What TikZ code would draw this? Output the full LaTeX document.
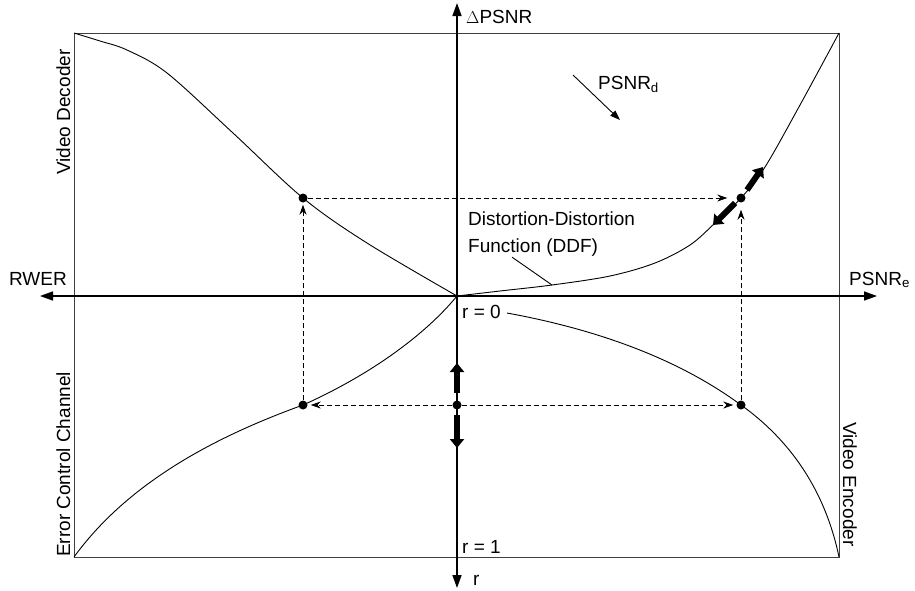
\documentclass[tikz,border=0pt]{standalone}
\usepackage{fontspec}
\setmainfont{Liberation Sans}
\usetikzlibrary{arrows.meta, positioning, calc}

\begin{document}
\begin{tikzpicture}[x=1pt, y=-1pt,
  every node/.style={font=\fontsize{19}{22}\selectfont, inner sep=0pt},
  axisline/.style={line width=1.6pt, {Triangle[length=13pt,width=9pt]}-{Triangle[length=13pt,width=9pt]}},
  curveline/.style={line width=0.9pt},
  dashline/.style={dash pattern=on 5pt off 3pt, line width=0.9pt, -{Stealth[length=10pt,width=7pt]}},
  bigarrow/.style={line width=6pt, -{Triangle[length=9pt,width=14pt]}},
  dot/.style={circle, fill, minimum size=9pt, inner sep=0pt}]
\useasboundingbox (0,0) rectangle (915,590);

% Frame
\draw[black!75, line width=0.9pt] (74,33) rectangle (839,557);

% Axes
\coordinate (O) at (457,296);
\coordinate (xwest) at (40,296);
\coordinate (xeast) at (877,296);
\coordinate (ytop) at (457,3);
\coordinate (ybot) at (457,588);
\draw[axisline] (xwest) -- (xeast);
\draw[axisline] (ytop) -- (ybot);

% Axis labels
\node[anchor=base west] (dpsnr) at (466,23) {$\Delta$PSNR};
\node[anchor=base west] (psnre) at (849,285) {PSNR\textsubscript{e}};
\node[anchor=base east] (rwer) at (67,285) {RWER};
\node[anchor=base west] (r0) at (462,318) {r = 0};
\node[anchor=base west] (r1) at (462,553) {r = 1};
\node[anchor=base west] (rlab) at (473,585) {r};

% Quadrant labels
\node[rotate=90, anchor=base west] (dec) at (70,175) {Video Decoder};
\node[rotate=90, anchor=base west] (ecc) at (70,557) {Error Control Channel};
\node[rotate=-90, anchor=base west] (enc) at (843,422) {Video Encoder};

% Operating points
\node[dot] (pdec) at (303,198) {};
\node[dot] (pddf) at (741,198) {};
\node[dot] (pecc) at (303,405) {};
\node[dot] (pr) at (457,405) {};
\node[dot] (penc) at (741,405) {};

% Curves
\draw[curveline] plot[smooth, tension=0.55] coordinates {(74,33) (100,41) (127,50) (167,73) (233,133) (303,198) (367,243) (457,296)};
\draw[curveline] plot[smooth, tension=0.55] coordinates {(457,296) (500,291) (552,285) (610,276) (655,263) (690,245) (715,223) (741,198) (765,167) (800,105) (839,33)};
\draw[curveline] (74,557) .. controls (130,480) and (220,435) .. (pecc.center)
  .. controls (370,375) and (425,335) .. (O);
\draw[curveline] (507,313) .. controls (600,330) and (680,360) .. (penc.center)
  .. controls (790,440) and (825,490) .. (839,557);

% Mapping between the quadrants
\draw[dashline, shorten >=3pt] (pr) -- (pecc);
\draw[dashline, shorten >=3pt] (pr) -- (penc);
\draw[dashline, shorten >=2pt] (pecc) -- (pdec);
\draw[dashline, shorten >=7pt] (penc) -- (pddf);
\draw[dashline, shorten >=9pt] (pdec) -- (pddf);

% Direction of change
\draw[bigarrow] ($(pr)+(0,-12)$) -- ($(pr)+(0,-42)$);
\draw[bigarrow] ($(pr)+(0,10)$) -- ($(pr)+(0,43)$);
\draw[bigarrow] ($(pddf)+(6,-8)$) -- ($(pddf)+(22,-31)$);
\draw[bigarrow] ($(pddf)+(-6,5)$) -- ($(pddf)+(-28,27)$);

% DDF label
\node[anchor=base west] (ddf1) at (468,225) {Distortion-Distortion};
\node[anchor=base west] (ddf2) at (468,252) {Function (DDF)};
\coordinate (ddfpt) at (552,285);
\draw[curveline] ($(ddf2.south west)+(44,1)$) -- (ddfpt);

% PSNR_d
\node[anchor=base west] (psnrd) at (598,89) {PSNR\textsubscript{d}};
\coordinate (dfrom) at (573,75);
\coordinate (dto) at (620,120);
\draw[curveline, -{Triangle[length=10pt,width=7pt]}] (dfrom) -- (dto);

\end{tikzpicture}
\end{document}
